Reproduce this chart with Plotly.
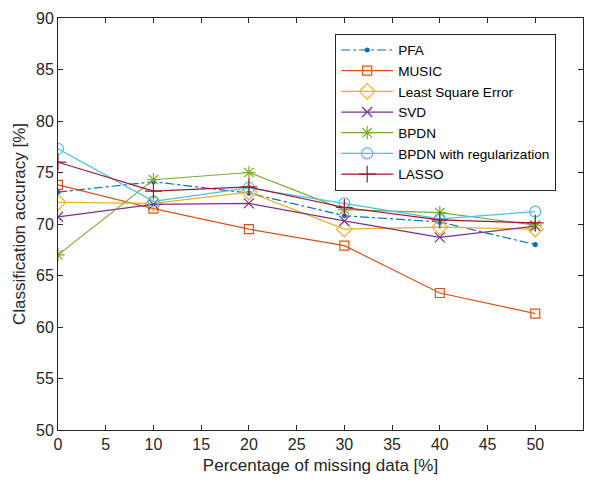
import plotly.graph_objects as go

missing_pct = [0, 10, 20, 30, 40, 50]

pfa = [73.1, 74.1, 73.0, 70.8, 70.2, 68.0]
music = [73.8, 71.5, 69.5, 67.9, 63.3, 61.3]
lse = [72.1, 72.0, 73.1, 69.5, 69.7, 69.5]
svd = [70.7, 71.9, 72.0, 70.3, 68.7, 69.8]
bpdn = [67.0, 74.3, 75.0, 71.4, 71.1, 69.9]
bpdn_reg = [77.3, 72.2, 73.5, 72.0, 70.5, 71.2]
lasso = [76.0, 73.2, 73.6, 71.6, 70.4, 70.1]

series = [
    ("PFA", pfa, "#0072BD", "dashdot", "circle", 4),
    ("MUSIC", music, "#D95319", "solid", "square-open", 9),
    ("Least Square Error", lse, "#EDB120", "solid", "diamond-open", 12),
    ("SVD", svd, "#7E2F8E", "solid", "x-thin-open", 10),
    ("BPDN", bpdn, "#77AC30", "solid", "asterisk-open", 11),
    ("BPDN with regularization", bpdn_reg, "#4DBEEE", "solid", "circle-open", 11),
    ("LASSO", lasso, "#A2142F", "solid", "cross-thin-open", 12),
]

fig = go.Figure()
for name, vals, color, dash, symbol, size in series:
    fig.add_trace(go.Scatter(
        x=missing_pct, y=vals, name=name, mode="lines+markers",
        line=dict(color=color, width=1.2, dash=dash),
        marker=dict(symbol=symbol, size=size, color=color,
                    line=dict(color=color, width=1.2)),
    ))

axis_common = dict(
    showgrid=False, zeroline=False, showline=True, linecolor="#262626",
    linewidth=1, mirror="ticks", ticks="inside", ticklen=5,
    tickcolor="#262626", tickfont=dict(size=16, color="#262626"),
)

fig.update_layout(
    width=590, height=483,
    margin=dict(l=58, r=7, t=18, b=53),
    paper_bgcolor="white", plot_bgcolor="white",
    font=dict(family="Liberation Sans, Arial, sans-serif", color="#262626"),
    showlegend=True,
    legend=dict(
        x=0.528, y=0.962, xanchor="left", yanchor="top",
        bordercolor="#262626", borderwidth=1, bgcolor="white",
        font=dict(size=13.6, color="#000000"), tracegroupgap=0,
        itemwidth=52,
    ),
    xaxis=dict(range=[0, 55], dtick=5, tick0=0,
               title=dict(text="Percentage of missing data [%]",
                          font=dict(size=17), standoff=6),
               **axis_common),
    yaxis=dict(range=[50, 90], dtick=5, tick0=50,
               title=dict(text="Classification accuracy [%]",
                          font=dict(size=17), standoff=6),
               **axis_common),
)

fig.write_html("out.html")
